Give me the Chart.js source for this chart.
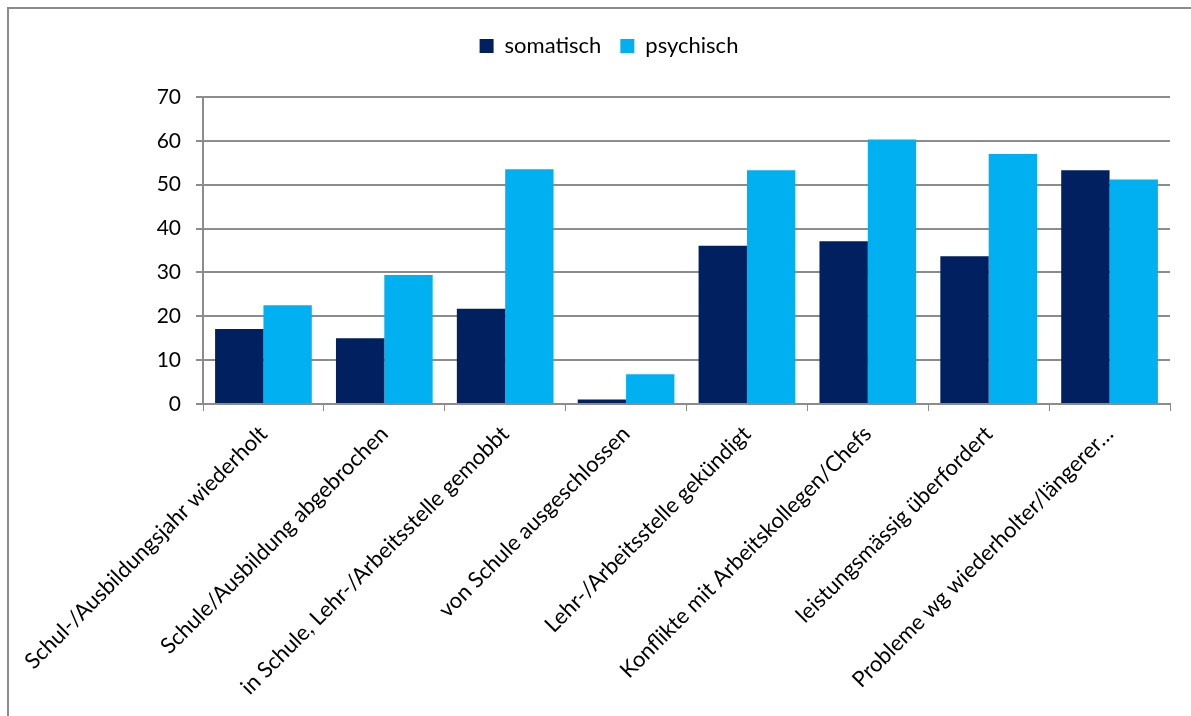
<!DOCTYPE html>
<html>
<head>
<meta charset="utf-8">
<script src="https://cdn.jsdelivr.net/npm/chart.js@4/dist/chart.umd.min.js"></script>
<style>
  html, body { margin: 0; padding: 0; background: #fff; }
  #wrap { width: 1191px; height: 716px; position: relative; }
</style>
</head>
<body>
<div id="wrap"><canvas id="reasonsChart" width="1191" height="716"></canvas></div>
<script>
const categories = [
  "Schul-/Ausbildungsjahr wiederholt",
  "Schule/Ausbildung abgebrochen",
  "in Schule, Lehr-/Arbeitsstelle gemobbt",
  "von Schule ausgeschlossen",
  "Lehr-/Arbeitsstelle gekündigt",
  "Konflikte mit Arbeitskollegen/Chefs",
  "leistungsmässig überfordert",
  "Probleme wg wiederholter/längerer…"
];
const somatisch = [17.1, 15.0, 21.7, 1.0, 36.1, 37.1, 33.7, 53.3];
const psychisch = [22.5, 29.4, 53.5, 6.8, 53.3, 60.3, 57.0, 51.2];
const yTicks = [0, 10, 20, 30, 40, 50, 60, 70];

const FONT = "Lato, 'Open Sans', sans-serif";

// thin frame along the top and left edge
const framePlugin = {
  id: "frame",
  beforeDraw(chart) {
    const c = chart.ctx;
    c.save();
    c.fillStyle = "#fff";
    c.fillRect(0, 0, chart.width, chart.height);
    c.strokeStyle = "#8c8c8c";
    c.lineWidth = 2;
    c.beginPath();
    c.moveTo(8, chart.height);
    c.lineTo(8, 8);
    c.lineTo(chart.width, 8);
    c.stroke();
    c.restore();
  }
};

const ctx = document.getElementById("reasonsChart").getContext("2d");
const reasonsChart = new Chart(ctx, {
  type: "bar",
  data: {
    labels: categories,
    datasets: [
      {
        label: "somatisch",
        data: somatisch,
        backgroundColor: "#002060",
        categoryPercentage: 0.8,
        barPercentage: 1.0
      },
      {
        label: "psychisch",
        data: psychisch,
        backgroundColor: "#00B0F0",
        categoryPercentage: 0.8,
        barPercentage: 1.0
      }
    ]
  },
  options: {
    responsive: false,
    animation: false,
    layout: { padding: { top: 16, left: 27, right: 0, bottom: 0 } },
    plugins: {
      legend: {
        position: "top",
        labels: {
          font: { family: FONT, size: 22 },
          color: "#000",
          boxWidth: 14,
          boxHeight: 14,
          padding: 19
        }
      },
      // empty spacer between the legend and the plot area
      subtitle: {
        display: true,
        text: "",
        weight: 500,
        font: { size: 1, lineHeight: 1 },
        padding: { top: 0, bottom: 29 }
      },
      tooltip: { enabled: false }
    },
    scales: {
      x: {
        grid: {
          display: true,
          drawOnChartArea: false,
          drawTicks: true,
          tickLength: 7,
          color: "#8c8c8c",
          offset: true
        },
        border: { display: true, color: "#8c8c8c", width: 2 },
        ticks: {
          font: { family: FONT, size: 22 },
          color: "#000",
          minRotation: 45,
          maxRotation: 45,
          autoSkip: false,
          padding: 10,
          labelOffset: 0
        },
        afterFit(scale) { scale.height = 312; }
      },
      y: {
        min: 0,
        max: 70,
        afterBuildTicks(scale) {
          scale.ticks = yTicks.map(v => ({ value: v }));
        },
        grid: {
          color: "#8c8c8c",
          lineWidth: 2,
          tickLength: 7
        },
        border: { display: true, color: "#8c8c8c", width: 2 },
        ticks: {
          font: { family: FONT, size: 21 },
          color: "#000",
          padding: 15
        },
        afterFit(scale) { scale.width = 176; }
      },
      // blank strip on the right edge of the plot
      yRight: {
        position: "right",
        display: true,
        grid: { display: false },
        border: { display: false },
        ticks: { display: false },
        afterFit(scale) { scale.width = 21; }
      }
    }
  },
  plugins: [framePlugin]
});
</script>
</body>
</html>
